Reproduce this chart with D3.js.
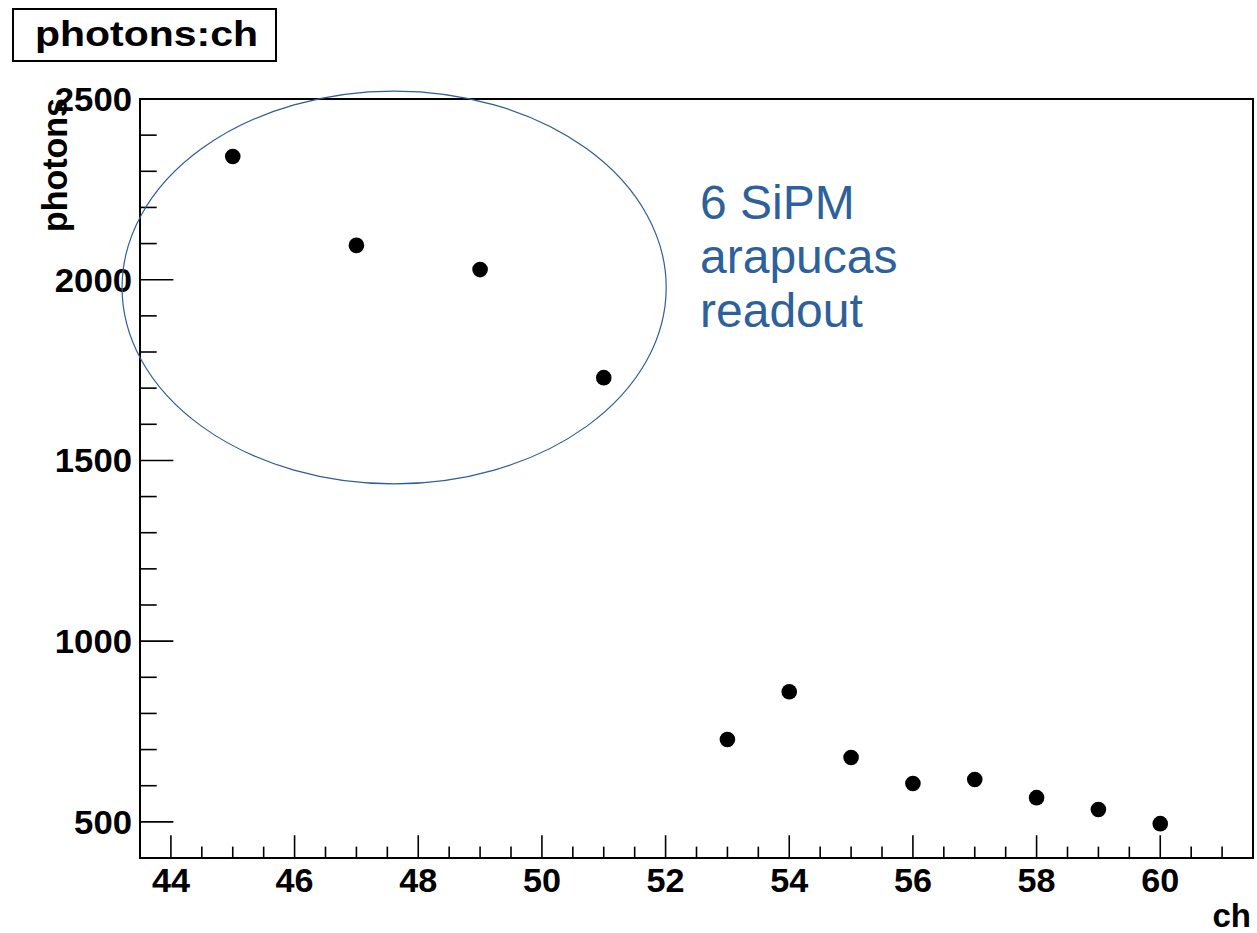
<!DOCTYPE html>
<html>
<head>
<meta charset="utf-8">
<script src="https://cdn.jsdelivr.net/npm/d3@7"></script>
<style>
  html, body { margin: 0; padding: 0; background: #fff; }
  svg { display: block; }
</style>
</head>
<body>
<script>
// ---- data ----
const channels = [45, 47, 49, 51, 53, 54, 55, 56, 57, 58, 59, 60];
const photons = [2341, 2095, 2028, 1729, 728, 860, 678, 606, 617, 567, 534, 495];
const xTicks = [44, 46, 48, 50, 52, 54, 56, 58, 60];
const yTicks = [500, 1000, 1500, 2000, 2500];
const xDomain = [43.5, 61.5];
const yDomain = [400, 2500];
const titleText = "photons:ch";
const xTitle = "ch";
const yTitle = "photons";
const noteLines = ["6 SiPM", "arapucas", "readout"];
// annotation ellipse bounds in data units
const ellipseX = [43.21, 52.01];
const ellipseY = [1435, 2522];

const W = 1257, H = 933;
const frame = { left: 140, right: 1253, top: 99, bottom: 858 };
const FONT = "'Liberation Sans', Arial, Helvetica, sans-serif";

const svg = d3.select("body").append("svg").attr("width", W).attr("height", H);

const x = d3.scaleLinear().domain(xDomain).range([frame.left, frame.right]);
const y = d3.scaleLinear().domain(yDomain).range([frame.bottom, frame.top]);

// frame
svg.append("rect")
  .attr("x", frame.left).attr("y", frame.top)
  .attr("width", frame.right - frame.left).attr("height", frame.bottom - frame.top)
  .attr("fill", "none").attr("stroke", "#000").attr("stroke-width", 2);

const fw = frame.right - frame.left, fh = frame.bottom - frame.top;
const yMajorLen = 0.03 * fw, yMinorLen = yMajorLen / 2;
const xMajorLen = 0.03 * fh, xMinorLen = xMajorLen / 2;

// y axis ticks (inside frame)
const yMinor = d3.range(yDomain[0], yDomain[1] + 1, 100).filter(v => v % 500 !== 0);
const ticks = svg.append("g").attr("stroke", "#000").attr("stroke-width", 1.6);
ticks.selectAll(".ymaj").data(yTicks).enter().append("line")
  .attr("x1", frame.left).attr("x2", frame.left + yMajorLen)
  .attr("y1", d => y(d)).attr("y2", d => y(d));
ticks.selectAll(".ymin").data(yMinor).enter().append("line")
  .attr("x1", frame.left).attr("x2", frame.left + yMinorLen)
  .attr("y1", d => y(d)).attr("y2", d => y(d));

// x axis ticks
const xMinor = d3.range(xDomain[0], xDomain[1] + 0.01, 0.5).filter(v => !xTicks.includes(v));
ticks.selectAll(".xmaj").data(xTicks).enter().append("line")
  .attr("x1", d => x(d)).attr("x2", d => x(d))
  .attr("y1", frame.bottom).attr("y2", frame.bottom - xMajorLen);
ticks.selectAll(".xmin").data(xMinor).enter().append("line")
  .attr("x1", d => x(d)).attr("x2", d => x(d))
  .attr("y1", frame.bottom).attr("y2", frame.bottom - xMinorLen);

// tick labels
svg.append("g").selectAll("text").data(yTicks).enter().append("text")
  .attr("x", frame.left - 8).attr("y", d => y(d)).attr("dy", "0.36em")
  .attr("text-anchor", "end")
  .attr("font-family", FONT).attr("font-weight", "bold").attr("font-size", 33)
  .attr("textLength", d => String(d).length * 19.3).attr("lengthAdjust", "spacingAndGlyphs")
  .text(d => d);

svg.append("g").selectAll("text").data(xTicks).enter().append("text")
  .attr("x", d => x(d)).attr("y", 892)
  .attr("text-anchor", "middle")
  .attr("font-family", FONT).attr("font-weight", "bold").attr("font-size", 33)
  .attr("textLength", 38).attr("lengthAdjust", "spacingAndGlyphs")
  .text(d => d);

// axis titles
svg.append("text")
  .attr("x", 1251).attr("y", 927)
  .attr("text-anchor", "end")
  .attr("font-family", FONT).attr("font-weight", "bold").attr("font-size", 33)
  .text(xTitle);

svg.append("text")
  .attr("transform", `translate(67, 98) rotate(-90)`)
  .attr("text-anchor", "end")
  .attr("font-family", FONT).attr("font-weight", "bold").attr("font-size", 35)
  .attr("textLength", 134).attr("lengthAdjust", "spacingAndGlyphs")
  .text(yTitle);

// title box
svg.append("rect")
  .attr("x", 13).attr("y", 9).attr("width", 263).attr("height", 52)
  .attr("fill", "#fff").attr("stroke", "#000").attr("stroke-width", 2);
svg.append("text")
  .attr("x", 35).attr("y", 46)
  .attr("font-family", FONT).attr("font-weight", "bold").attr("font-size", 35)
  .attr("textLength", 223).attr("lengthAdjust", "spacingAndGlyphs")
  .text(titleText);

// annotation ellipse
const ex0 = x(ellipseX[0]), ex1 = x(ellipseX[1]);
const ey0 = y(ellipseY[1]), ey1 = y(ellipseY[0]);
svg.append("ellipse")
  .attr("cx", (ex0 + ex1) / 2).attr("cy", (ey0 + ey1) / 2)
  .attr("rx", (ex1 - ex0) / 2).attr("ry", (ey1 - ey0) / 2)
  .attr("fill", "none").attr("stroke", "#2f5d95").attr("stroke-width", 1.2);

// annotation text
svg.append("g").selectAll("text").data(noteLines).enter().append("text")
  .attr("x", 700).attr("y", (d, i) => 219 + i * 54)
  .attr("font-family", FONT).attr("font-size", 48)
  .attr("fill", "#2e619b")
  .text(d => d);

// points
svg.append("g").selectAll("circle").data(channels).enter().append("circle")
  .attr("cx", (d) => x(d)).attr("cy", (d, i) => y(photons[i]))
  .attr("r", 7.8).attr("fill", "#000");
</script>
</body>
</html>
